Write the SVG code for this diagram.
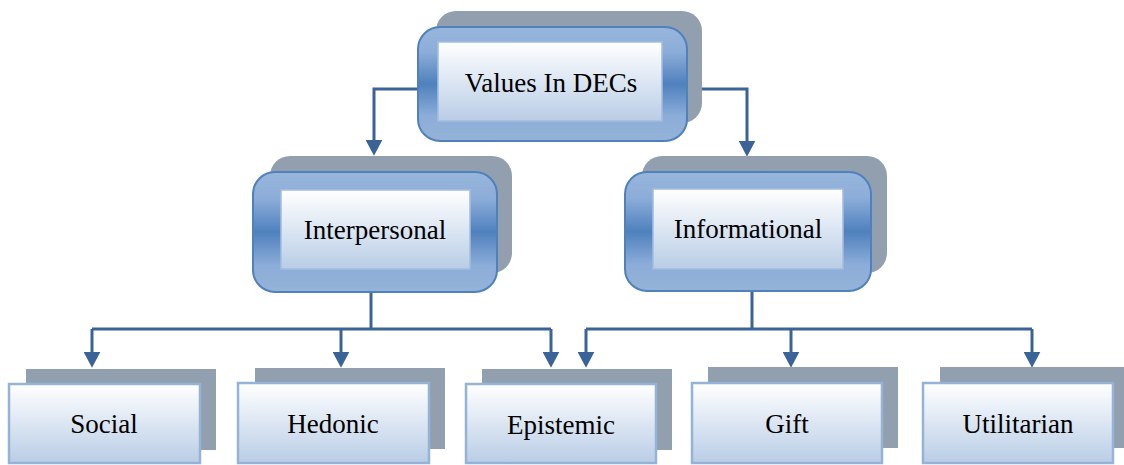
<svg xmlns="http://www.w3.org/2000/svg" width="1124" height="465" viewBox="0 0 1124 465">
<defs>
<linearGradient id="frame" x1="0" y1="0" x2="0" y2="1">
<stop offset="0" stop-color="#98B6DC"/>
<stop offset="0.22" stop-color="#8CADD9"/>
<stop offset="0.5" stop-color="#4F81BD"/>
<stop offset="0.78" stop-color="#8CADD9"/>
<stop offset="1" stop-color="#95B3D7"/>
</linearGradient>
<linearGradient id="inner" x1="0" y1="0" x2="0" y2="1">
<stop offset="0" stop-color="#FFFFFF"/>
<stop offset="1" stop-color="#B9CDE6"/>
</linearGradient>
<marker id="arr" markerUnits="userSpaceOnUse" markerWidth="17" markerHeight="17" refX="5" refY="8" orient="auto" viewBox="0 0 16 16">
<path d="M0,0 L15,8 L0,16 z" fill="#3A6397"/>
</marker>
</defs>
<style>
.shadow{fill:#929FAE}
.frame{fill:url(#frame);stroke:#4F81BD;stroke-width:2}
.inner{fill:url(#inner);stroke:#A3BDDF;stroke-width:1.5}
.box{fill:url(#inner);stroke:#95B3D7;stroke-width:2.5}
.lbl{font-family:"Liberation Serif","Times New Roman",serif;font-size:27px;fill:#000;text-anchor:middle}
.conn{fill:none;stroke:#3A6397;stroke-width:3;marker-end:url(#arr)}
.plain{fill:none;stroke:#3A6397;stroke-width:3}
</style>
<g id="connectors">
<path class="conn" d="M418,89 H374 V145"/>
<path class="conn" d="M687,89 H747 V146"/>
<path class="plain" d="M371,292 V329"/>
<path class="plain" d="M92,329 H551"/>
<path class="conn" d="M92,329 V357"/>
<path class="conn" d="M341,329 V357"/>
<path class="conn" d="M551,329 V357"/>
<path class="plain" d="M752,291 V329"/>
<path class="plain" d="M586,329 H1032"/>
<path class="conn" d="M586,329 V357"/>
<path class="conn" d="M791,329 V357"/>
<path class="conn" d="M1032,329 V357"/>
</g>
<g id="node-values">
<rect class="shadow" x="436" y="11" width="266" height="112" rx="20"/>
<rect class="frame" x="418" y="27" width="269" height="114" rx="22"/>
<rect class="inner" x="438" y="42" width="224" height="79"/>
<text class="lbl" x="551" y="92">Values In DECs</text>
</g>
<g id="node-interpersonal">
<rect class="shadow" x="270" y="156" width="242" height="117" rx="20"/>
<rect class="frame" x="253" y="172" width="244" height="120" rx="22"/>
<rect class="inner" x="281" y="190" width="189" height="79"/>
<text class="lbl" x="375" y="239">Interpersonal</text>
</g>
<g id="node-informational">
<rect class="shadow" x="642" y="156" width="245" height="117" rx="20"/>
<rect class="frame" x="625" y="172" width="246" height="119" rx="22"/>
<rect class="inner" x="653" y="189" width="190" height="80"/>
<text class="lbl" x="748" y="238">Informational</text>
</g>
<g id="node-social">
<rect class="shadow" x="26" y="369" width="190" height="81"/>
<rect class="box" x="9" y="384" width="191" height="79"/>
<text class="lbl" x="104" y="433">Social</text>
</g>
<g id="node-hedonic">
<rect class="shadow" x="255" y="368" width="190" height="81"/>
<rect class="box" x="238" y="383" width="191" height="80"/>
<text class="lbl" x="333" y="433">Hedonic</text>
</g>
<g id="node-epistemic">
<rect class="shadow" x="482" y="369" width="190" height="81"/>
<rect class="box" x="466" y="384" width="190" height="79"/>
<text class="lbl" x="561" y="434">Epistemic</text>
</g>
<g id="node-gift">
<rect class="shadow" x="708" y="367" width="190" height="81"/>
<rect class="box" x="692" y="383" width="190" height="80"/>
<text class="lbl" x="787" y="433">Gift</text>
</g>
<g id="node-utilitarian">
<rect class="shadow" x="940" y="367" width="190" height="81"/>
<rect class="box" x="923" y="383" width="190" height="80"/>
<text class="lbl" x="1018" y="433">Utilitarian</text>
</g>
</svg>
